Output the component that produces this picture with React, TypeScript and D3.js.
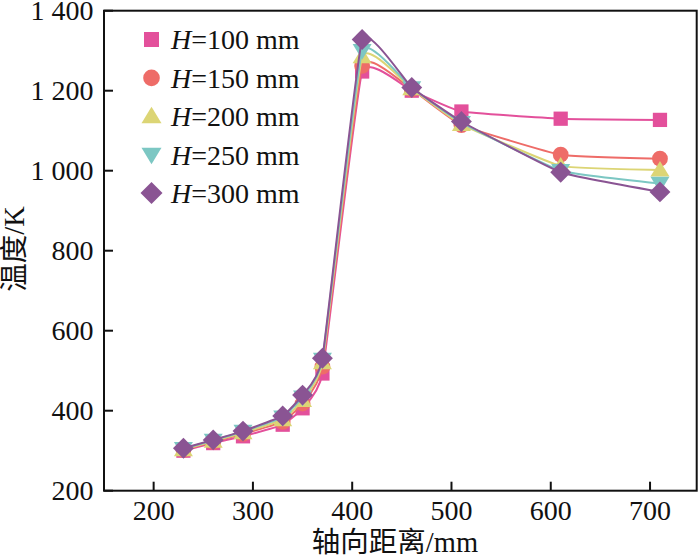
import React from "react";
import * as d3 from "d3";

const xValues = [230, 260, 290, 330, 350, 370, 410, 460, 510, 610, 710];
const seriesNames = ["100", "150", "200", "250", "300"];
const h100 = [300, 319, 336, 365, 406, 493, 1248, 1200, 1148, 1130, 1127];
const h150 = [302, 322, 342, 372, 418, 510, 1262, 1203, 1114, 1040, 1030];
const h200 = [303, 324, 345, 378, 426, 520, 1285, 1205, 1116, 1012, 1002];
const h250 = [305, 326, 348, 384, 434, 528, 1300, 1207, 1120, 1000, 968];
const h300 = [306, 327, 349, 387, 439, 531, 1328, 1208, 1123, 996, 947];
const seriesValues = [h100, h150, h200, h250, h300];
const colors = ["#E3509B", "#EE6C68", "#DCD575", "#7CC7C3", "#8A5493"];
const markerTypes = ["square", "circle", "triangle", "triangleDown", "diamond"];
const xTicks = [200, 300, 400, 500, 600, 700];
const yTicks = [200, 400, 600, 800, 1000, 1200, 1400];
const yTickLabels = ["200", "400", "600", "800", "1 000", "1 200", "1 400"];

const FONT = "'Liberation Serif', 'Times New Roman', 'Noto Sans CJK SC', serif";

function Marker({ type, cx, cy, color, s = 1 }: { type: string; cx: number; cy: number; color: string; s?: number }) {
  if (type === "square") return <rect x={cx - 7.5 * s} y={cy - 7.5 * s} width={15 * s} height={15 * s} fill={color} />;
  if (type === "circle") return <circle cx={cx} cy={cy} r={8.3 * s} fill={color} />;
  if (type === "triangle")
    return <path d={`M${cx},${cy - 9.5 * s} L${cx + 10 * s},${cy + 7 * s} L${cx - 10 * s},${cy + 7 * s} Z`} fill={color} />;
  if (type === "triangleDown")
    return <path d={`M${cx},${cy + 9.5 * s} L${cx + 10 * s},${cy - 7 * s} L${cx - 10 * s},${cy - 7 * s} Z`} fill={color} />;
  return <path d={`M${cx},${cy - 11 * s} L${cx + 11 * s},${cy} L${cx},${cy + 11 * s} L${cx - 11 * s},${cy} Z`} fill={color} />;
}

export default function App() {
  const left = 104, right = 696.7, top = 10.7, bottom = 490.7;
  const x = d3.scaleLinear().domain([150, 747]).range([left, right]);
  const y = d3.scaleLinear().domain([200, 1400]).range([bottom, top]);
  const line = d3
    .line<number>()
    .x((_, i) => x(xValues[i]))
    .y((d) => y(d))
    .curve(d3.curveCardinal.tension(0.65));

  return (
    <svg width={700} height={560} style={{ position: "absolute", left: 0, top: 0, background: "#fff" }} fontFamily={FONT}>
      {seriesValues.map((vals, si) => (
        <g key={si}>
          <path d={line(vals) || ""} fill="none" stroke={colors[si]} strokeWidth={2} />
          {vals.map((v, i) => (
            <Marker key={i} type={markerTypes[si]} cx={x(xValues[i])} cy={y(v)} color={colors[si]} s={0.95} />
          ))}
        </g>
      ))}
      <rect x={left} y={top} width={right - left} height={bottom - top} fill="none" stroke="#111" strokeWidth={2} />
      {xTicks.map((t) => (
        <g key={t}>
          <line x1={x(t)} x2={x(t)} y1={bottom} y2={bottom - 9} stroke="#111" strokeWidth={2} />
          <text x={x(t)} y={520} textAnchor="middle" fontSize={28} fill="#111">
            {t}
          </text>
        </g>
      ))}
      {yTicks.map((t, i) => (
        <g key={t}>
          <line x1={left} x2={left + 9} y1={y(t)} y2={y(t)} stroke="#111" strokeWidth={2} />
          <text x={93.5} y={y(t) + 9.3} textAnchor="end" fontSize={28} fill="#111">
            {yTickLabels[i]}
          </text>
        </g>
      ))}
      <text x={395} y={552} textAnchor="middle" fontSize={28.5} fill="#111">
        轴向距离/mm
      </text>
      <text transform="translate(24,249) rotate(-90)" textAnchor="middle" fontSize={28.5} fill="#111">
        温度/K
      </text>
      {seriesNames.map((n, i) => {
        const ry = 39.5 + i * 38.4;
        return (
          <g key={n}>
            <Marker type={markerTypes[i]} cx={151.5} cy={ry} color={colors[i]} />
            <text x={171} y={ry + 9.8} fontSize={28} fill="#111">
              <tspan fontStyle="italic">H</tspan>=
              {n} mm
            </text>
          </g>
        );
      })}
    </svg>
  );
}
